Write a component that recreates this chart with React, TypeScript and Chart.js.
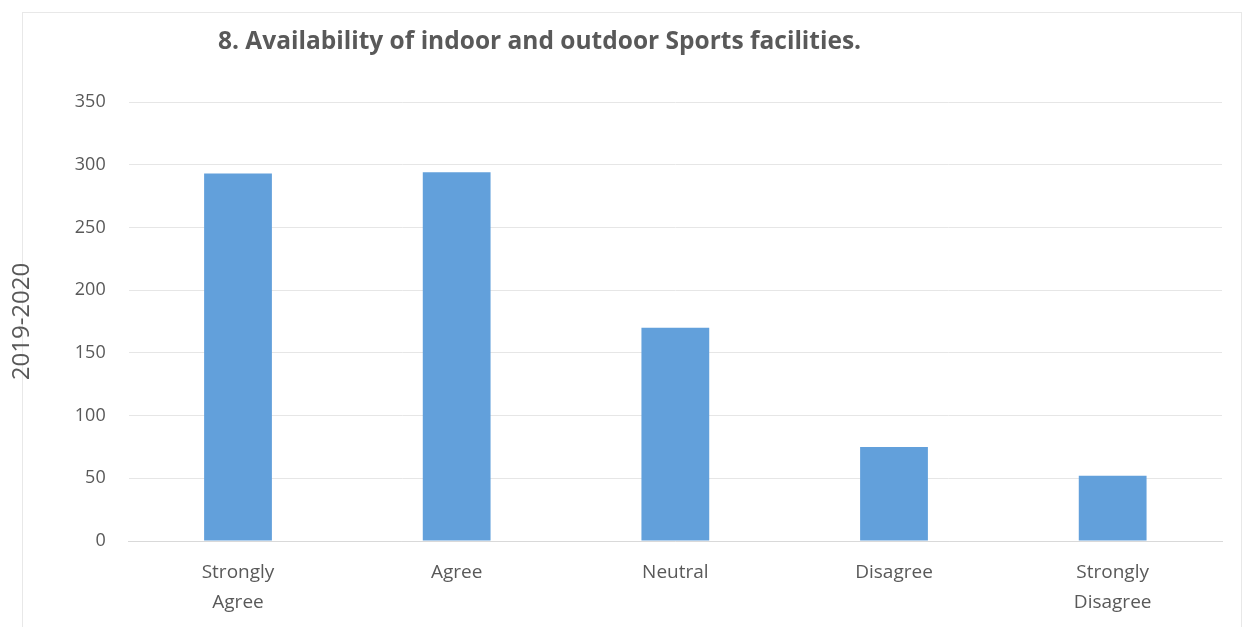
import React, { useEffect, useRef } from "react";
import { Chart, registerables } from "chart.js";

Chart.register(...registerables);

const categories: string[][] = [
  ["Strongly", "Agree"],
  ["Agree"],
  ["Neutral"],
  ["Disagree"],
  ["Strongly", "Disagree"],
];
const values: number[] = [293, 294, 170, 75, 52];
const yTicks: number[] = [0, 50, 100, 150, 200, 250, 300, 350];
const titleText = "8. Availability of indoor and outdoor Sports facilities.";
const yTitle = "2019-2020";

const FONT = "'Open Sans', sans-serif";

const titlePlugin = {
  id: "leftTitle",
  afterDraw(chart: any) {
    const ctx = chart.ctx;
    ctx.save();
    ctx.font = `bold 24.5px ${FONT}`;
    ctx.fillStyle = "#595959";
    ctx.textBaseline = "middle";
    ctx.textAlign = "left";
    ctx.fillText(titleText, 218, 42);
    ctx.restore();
  },
};

export default function App() {
  const ref = useRef<HTMLCanvasElement | null>(null);
  useEffect(() => {
    if (!ref.current) return;
    const chart = new Chart(ref.current, {
      type: "bar",
      data: {
        labels: categories,
        datasets: [
          {
            label: yTitle,
            data: values,
            backgroundColor: "#62a0db",
            borderWidth: 0,
            categoryPercentage: 1,
            barPercentage: 0.31,
          },
        ],
      },
      options: {
        animation: false,
        responsive: false,
        maintainAspectRatio: false,
        layout: { padding: { top: 102, right: 24, left: 8, bottom: 0 } },
        plugins: {
          legend: { display: false },
          tooltip: { enabled: false },
          title: { display: false },
        },
        scales: {
          x: {
            grid: { display: false, drawTicks: false },
            border: { display: true, color: "#d9d9d9" },
            afterFit(scale: any) {
              scale.height = 86;
            },
            ticks: {
              color: "#595959",
              font: { family: FONT, size: 19, lineHeight: 1.55 },
              padding: 17,
              maxRotation: 0,
            },
          },
          y: {
            min: 0,
            max: 350,
            afterBuildTicks(scale: any) {
              scale.ticks = yTicks.map((v) => ({ value: v }));
            },
            grid: { color: "#e6e6e6", drawTicks: false },
            border: { display: false },
            ticks: {
              color: "#595959",
              font: { family: FONT, size: 18 },
              padding: 23,
            },
            title: {
              display: true,
              text: yTitle,
              color: "#595959",
              font: { family: FONT, size: 24, lineHeight: 1.2 },
              padding: { top: 0, bottom: 15 },
            },
          },
        },
      },
      plugins: [titlePlugin],
    });
    return () => chart.destroy();
  }, []);
  return (
    <div style={{ position: "fixed", left: 0, top: 0, width: 1246, height: 627, background: "#fff" }}>
      <div
        style={{
          position: "absolute",
          left: 22,
          top: 12,
          width: 1220,
          height: 640,
          border: "1px solid #e8e8e8",
          boxSizing: "border-box",
        }}
      />
      <canvas ref={ref} width={1246} height={627} style={{ position: "absolute", left: 0, top: 0 }} />
    </div>
  );
}
